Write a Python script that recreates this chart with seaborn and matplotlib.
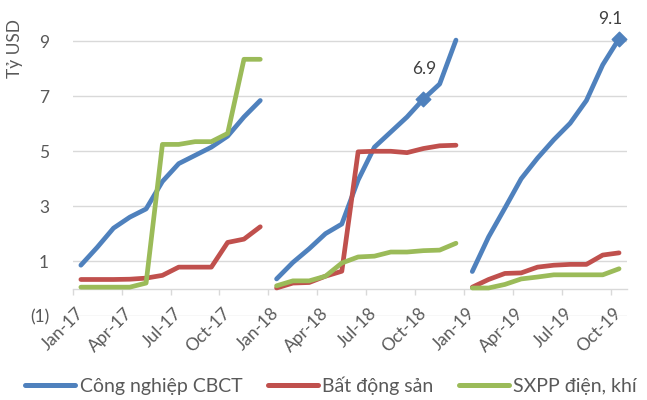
import matplotlib
matplotlib.use("Agg")
import matplotlib.pyplot as plt
import seaborn as sns
import pandas as pd
import numpy as np
from matplotlib.lines import Line2D

# ---- data (Tỷ USD, cumulative within each year) ----
months = pd.date_range("2017-01-01", periods=34, freq="MS")
month_labels = [m.strftime("%b-%y") for m in months]

cbct_2017 = [0.85, 1.5, 2.2, 2.6, 2.9, 3.9, 4.55, 4.85, 5.15, 5.55, 6.25, 6.85]
cbct_2018 = [0.35, 0.95, 1.45, 2.0, 2.35, 3.95, 5.15, 5.7, 6.25, 6.9, 7.45, 9.05]
cbct_2019 = [0.62, 1.88, 2.93, 4.0, 4.75, 5.42, 6.02, 6.85, 8.15, 9.1]

bds_2017 = [0.33, 0.33, 0.33, 0.34, 0.38, 0.48, 0.78, 0.78, 0.78, 1.68, 1.8, 2.25]
bds_2018 = [0.02, 0.2, 0.22, 0.45, 0.63, 4.98, 5.0, 5.0, 4.95, 5.1, 5.2, 5.22]
bds_2019 = [0.05, 0.33, 0.55, 0.57, 0.78, 0.85, 0.88, 0.88, 1.22, 1.3]

sxpp_2017 = [0.05, 0.05, 0.05, 0.05, 0.2, 5.25, 5.25, 5.35, 5.35, 5.65, 8.35, 8.35]
sxpp_2018 = [0.1, 0.28, 0.28, 0.45, 0.93, 1.15, 1.18, 1.33, 1.33, 1.38, 1.4, 1.65]
sxpp_2019 = [0.02, 0.02, 0.15, 0.35, 0.42, 0.5, 0.5, 0.5, 0.5, 0.72]

series_names = ["Công nghiệp CBCT", "Bất động sản", "SXPP điện, khí"]
colors = ["#4F81BD", "#C0504D", "#9BBB59"]
ytick_vals = [-1, 1, 3, 5, 7, 9]
ytick_labels = ["(1)", "1", "3", "5", "7", "9"]
label_points = ["Oct-18", "Oct-19"]
label_offsets = [(1, 22), (-6, 14)]   # points, label placement style

# ---- build long table ----
rows = []
for name, parts in zip(series_names, [
        [cbct_2017, cbct_2018, cbct_2019],
        [bds_2017, bds_2018, bds_2019],
        [sxpp_2017, sxpp_2018, sxpp_2019]]):
    vals = [v for p in parts for v in p]
    for i, v in enumerate(vals):
        rows.append({"series": name, "idx": i, "month": month_labels[i],
                     "year": months[i].year, "value": v})
df = pd.DataFrame(rows)

plt.rcParams["font.family"] = ["Lato", "DejaVu Sans"]
FS = 12.5
TXT = "#595959"
fig = plt.figure(figsize=(6.47, 4.0), dpi=100)
ax = fig.add_axes([0.1124, 0.21, 0.857, 0.755])

sns.lineplot(data=df, x="idx", y="value", hue="series", units="year",
             estimator=None, palette=colors, hue_order=series_names,
             linewidth=3.4, ax=ax, legend=False, zorder=3)
for l in ax.lines:
    l.set_solid_capstyle("round")
    l.set_solid_joinstyle("round")

# markers + data labels
lab = df[(df.series == series_names[0]) & (df.month.isin(label_points))]
ax.scatter(lab.idx, lab.value, marker="D", s=55, color=colors[0], zorder=4)
for (_, r), off in zip(lab.iterrows(), label_offsets):
    ax.annotate(f"{r.value:.1f}", (r.idx, r.value), xytext=off,
                textcoords="offset points", ha="center", va="center",
                fontsize=FS, color="#404040")

ax.set_xlim(-0.5, len(months) - 0.5)
ax.set_ylim(-1, 10)
ax.set_yticks(ytick_vals)
ax.set_yticklabels(ytick_labels)
ax.grid(axis="y", color="#D9D9D9", linewidth=1.0, zorder=0)
ax.set_axisbelow(True)
ax.tick_params(axis="y", length=0, pad=17, labelsize=FS, labelcolor=TXT)

for s in ["top", "right", "left"]:
    ax.spines[s].set_visible(False)
ax.spines["bottom"].set_position(("data", 0))
ax.spines["bottom"].set_color("#D9D9D9")
ax.spines["bottom"].set_linewidth(1.0)

ax.set_xticks(np.arange(-0.5, len(months), 3))
ax.set_xticklabels([])
ax.tick_params(axis="x", which="major", length=4.5, color="#D9D9D9", width=1.0)
ax.set_xticks(np.arange(0, len(months), 3), minor=True)
ax.set_xticklabels(month_labels[::3], minor=True, rotation=45, ha="right",
                   rotation_mode="anchor", va="center")
ax.tick_params(axis="x", which="minor", length=0, pad=16, labelsize=FS,
               labelcolor=TXT)

ax.set_xlabel("")
ax.set_ylabel("")
ax.text(-0.104, 0.887, "Tỷ USD", transform=ax.transAxes, rotation=90,
        ha="center", va="center", fontsize=FS, color=TXT)

handles = [Line2D([0], [0], color=c, linewidth=3.6, solid_capstyle="round")
           for c in colors]
fig.legend(handles, series_names, loc="center", bbox_to_anchor=(0.5116, 0.035),
           ncol=3, frameon=False, fontsize=14, handlelength=2.58,
           handletextpad=0.23, columnspacing=1.3, labelcolor=TXT,
           borderpad=0, borderaxespad=0)

fig.savefig("out.png", dpi=100)
